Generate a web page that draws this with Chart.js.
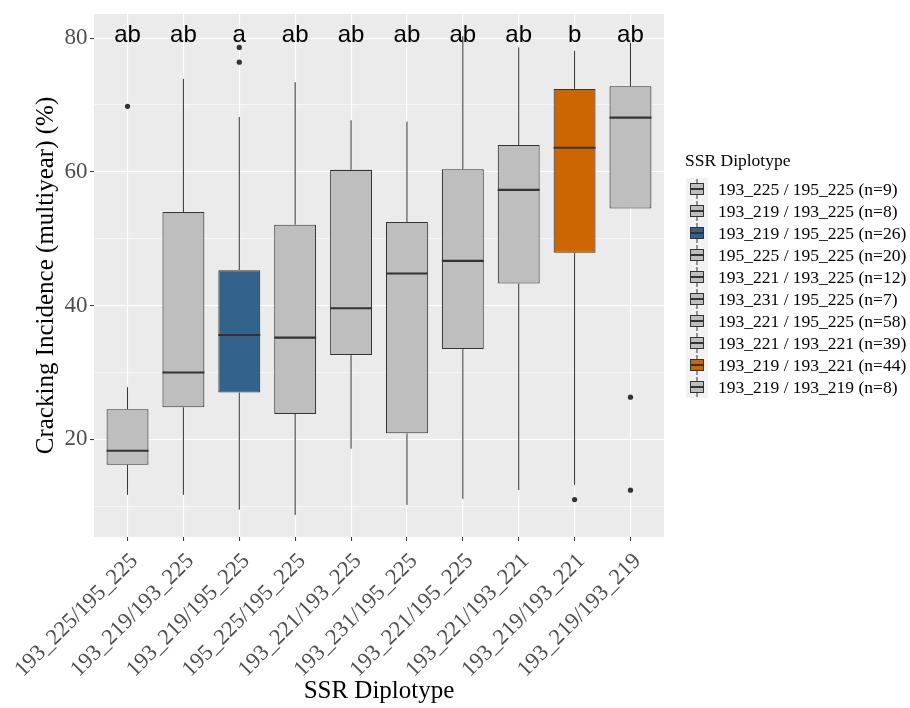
<!DOCTYPE html>
<html>
<head>
<meta charset="utf-8">
<script src="https://cdn.jsdelivr.net/npm/chart.js@4.4.0/dist/chart.umd.min.js"></script>
<style>
  html, body { margin: 0; padding: 0; background: #fff; }
  #wrap { width: 910px; height: 708px; }
</style>
</head>
<body>
<div id="wrap"><canvas id="boxCanvas"></canvas></div>
<script>
// categories (x axis) and legend entries
const categories = ['193_225/195_225', '193_219/193_225', '193_219/195_225', '195_225/195_225', '193_221/193_225',
  '193_231/195_225', '193_221/195_225', '193_221/193_221', '193_219/193_221', '193_219/193_219'];
const legendLabels = ['193_225 / 195_225 (n=9)', '193_219 / 193_225 (n=8)', '193_219 / 195_225 (n=26)',
  '195_225 / 195_225 (n=20)', '193_221 / 193_225 (n=12)', '193_231 / 195_225 (n=7)', '193_221 / 195_225 (n=58)',
  '193_221 / 193_221 (n=39)', '193_219 / 193_221 (n=44)', '193_219 / 193_219 (n=8)'];

// box statistics (%)
const lowerWhisker = [11.7, 11.7, 9.5, 8.7, 18.6, 10.2, 11.1, 12.4, 13.2, 54.5];
const q1           = [16.2, 24.8, 27.0, 23.8, 32.6, 20.9, 33.5, 43.3, 47.9, 54.5];
const medians      = [18.3, 30.0, 35.6, 35.2, 39.6, 44.8, 46.7, 57.3, 63.6, 68.1];
const q3           = [24.5, 54.0, 45.3, 52.1, 60.3, 52.5, 60.4, 64.0, 72.4, 72.8];
const upperWhisker = [27.8, 73.9, 68.2, 73.4, 67.7, 67.5, 80.3, 78.6, 78.1, 79.3];
// [category number, value]
const outliers = [[1, 69.8], [3, 78.6], [3, 76.4], [9, 11.0], [10, 26.3], [10, 12.4]];

const groupLetters = ['ab', 'ab', 'a', 'ab', 'ab', 'ab', 'ab', 'ab', 'b', 'ab'];
const letterY = 79.45;

const yTicks = [10, 20, 30, 40, 50, 60, 70, 80];
const yMin = 5.4, yMax = 83.6;

const GREY = '#BEBEBE', BLUE = '#33628C', ORANGE = '#CC6600';
const boxColors = [GREY, GREY, BLUE, GREY, GREY, GREY, GREY, GREY, ORANGE, GREY];

const SERIF = '"Liberation Serif", "Times New Roman", serif';
const SANS = '"Liberation Sans", Arial, sans-serif';

const boxPlotPlugin = {
  id: 'boxPlotPlugin',
  beforeDraw(chart) {
    const { ctx, chartArea: a } = chart;
    ctx.save();
    ctx.fillStyle = '#EBEBEB';
    ctx.fillRect(a.left, a.top, a.right - a.left, a.bottom - a.top);
    ctx.restore();
  },
  afterDatasetsDraw(chart) {
    const { ctx } = chart;
    const xs = chart.scales.x, ys = chart.scales.y;
    const bars = chart.getDatasetMeta(0).data;
    ctx.save();
    ctx.strokeStyle = '#333333';
    categories.forEach((c, i) => {
      const x = xs.getPixelForValue(i + 1);
      ctx.lineWidth = 1;
      ctx.beginPath();
      ctx.moveTo(x, ys.getPixelForValue(upperWhisker[i]));
      ctx.lineTo(x, ys.getPixelForValue(q3[i]));
      ctx.moveTo(x, ys.getPixelForValue(q1[i]));
      ctx.lineTo(x, ys.getPixelForValue(lowerWhisker[i]));
      ctx.stroke();
      // median
      const w = bars[i].width;
      const ym = ys.getPixelForValue(medians[i]);
      ctx.lineWidth = 2.2;
      ctx.beginPath();
      ctx.moveTo(x - w / 2, ym);
      ctx.lineTo(x + w / 2, ym);
      ctx.stroke();
    });
    ctx.restore();
  },
  afterDraw(chart) {
    const { ctx } = chart;
    const xs = chart.scales.x, ys = chart.scales.y;
    ctx.save();
    // significance letters
    ctx.fillStyle = '#000';
    ctx.font = '24px ' + SANS;
    ctx.textAlign = 'center';
    ctx.textBaseline = 'alphabetic';
    groupLetters.forEach((t, i) => {
      ctx.fillText(t, xs.getPixelForValue(i + 1), ys.getPixelForValue(letterY));
    });

    // legend
    const kx = 686, ky0 = 178, ks = 22;
    ctx.textAlign = 'left';
    ctx.textBaseline = 'middle';
    ctx.font = '17.5px ' + SERIF;
    ctx.fillText('SSR Diplotype', 685, 161);
    legendLabels.forEach((lab, i) => {
      const ky = ky0 + i * ks;
      ctx.fillStyle = '#F2F2F2';
      ctx.fillRect(kx, ky, ks, ks);
      const cx = kx + ks / 2;
      ctx.strokeStyle = '#333333';
      ctx.lineWidth = 1;
      ctx.beginPath();
      ctx.moveTo(cx, ky + 1); ctx.lineTo(cx, ky + 5.5);
      ctx.moveTo(cx, ky + 16.5); ctx.lineTo(cx, ky + ks - 1);
      ctx.stroke();
      ctx.fillStyle = boxColors[i];
      ctx.fillRect(kx + 4.5, ky + 5.5, 13, 11);
      ctx.strokeRect(kx + 4.5, ky + 5.5, 13, 11);
      ctx.lineWidth = 2;
      ctx.beginPath();
      ctx.moveTo(kx + 4.5, ky + 11); ctx.lineTo(kx + 17.5, ky + 11);
      ctx.stroke();
      ctx.fillStyle = '#000';
      ctx.fillText(lab, 718, ky + ks / 2 + 1);
    });
    ctx.restore();
  }
};

new Chart(document.getElementById('boxCanvas'), {
  type: 'scatter',
  data: {
    datasets: [
      {
        type: 'bar',
        label: 'box',
        data: categories.map((c, i) => ({ x: i + 1, y: [q1[i], q3[i]] })),
        backgroundColor: boxColors,
        borderColor: '#333333',
        borderWidth: 1.1,
        borderSkipped: false,
        barPercentage: 0.75,
        categoryPercentage: 1
      },
      {
        type: 'scatter',
        label: 'outliers',
        data: outliers.map(o => ({ x: o[0], y: o[1] })),
        backgroundColor: '#333333',
        borderWidth: 0,
        pointRadius: 2.6
      }
    ]
  },
  options: {
    responsive: true,
    maintainAspectRatio: false,
    animation: false,
    layout: { padding: { left: 0, top: 14, right: 246, bottom: 0 } },
    plugins: { legend: { display: false }, tooltip: { enabled: false } },
    scales: {
      x: {
        type: 'linear',
        min: 0.4,
        max: 10.6,
        offset: false,
        bounds: 'data',
        afterBuildTicks: s => { s.ticks = categories.map((c, i) => ({ value: i + 1 })); },
        afterFit: s => { s.height = 171; s.paddingLeft = 0; s.paddingRight = 0; },
        grid: { offset: false, color: '#FFFFFF', lineWidth: 1.1, tickLength: 4, tickColor: '#333333', tickWidth: 1 },
        border: { display: false },
        ticks: {
          autoSkip: false,
          minRotation: 45,
          maxRotation: 45,
          padding: 7,
          labelOffset: 7,
          color: '#4D4D4D',
          font: { family: SERIF, size: 22.5 },
          callback: v => categories[Math.round(v) - 1]
        },
        title: {
          display: true,
          text: 'SSR Diplotype',
          color: '#000',
          font: { family: SERIF, size: 25 },
          padding: { top: 0, bottom: 2 }
        }
      },
      y: {
        type: 'linear',
        min: yMin,
        max: yMax,
        bounds: 'data',
        afterBuildTicks: s => { s.ticks = yTicks.map(v => ({ value: v })); },
        afterFit: s => { s.width = 94; s.paddingTop = 0; s.paddingBottom = 0; },
        grid: {
          color: '#FFFFFF',
          lineWidth: c => (c.tick && c.tick.value % 20 === 0 ? 1.1 : 0.55),
          tickLength: 4,
          tickColor: c => (c.tick && c.tick.value % 20 === 0 ? '#333333' : 'rgba(0,0,0,0)'),
          tickWidth: 1
        },
        border: { display: false },
        ticks: {
          padding: 2.5,
          color: '#4D4D4D',
          font: { family: SERIF, size: 23 },
          callback: v => (v % 20 === 0 ? v : '')
        },
        title: {
          display: true,
          text: 'Cracking Incidence (multiyear) (%)',
          color: '#000',
          font: { family: SERIF, size: 25 },
          padding: { top: 31, bottom: 0 }
        }
      }
    }
  },
  plugins: [boxPlotPlugin]
});
</script>
</body>
</html>
